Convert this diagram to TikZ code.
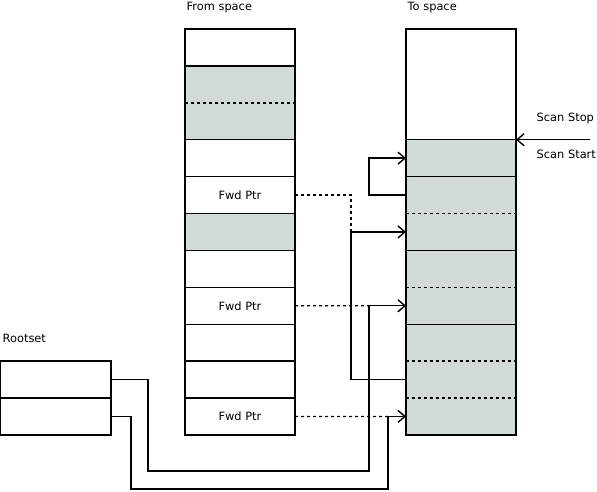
\documentclass[tikz,border=0pt]{standalone}
\usepackage{fontspec}
\setmainfont{DejaVu Sans}
\usetikzlibrary{positioning,arrows.meta}
\definecolor{memgray}{RGB}{211,219,214}
\tikzset{
  slot/.style={rectangle, minimum width=110pt, minimum height=36.9pt, inner sep=0pt, outer sep=0pt},
  used/.style={slot, fill=memgray},
  caption/.style={anchor=west, inner sep=0pt},
  ptr/.style={-{Straight Barb[length=7pt,width=12pt]}},
}
\begin{document}
\begin{tikzpicture}[x=1pt, y=-1pt, line width=1.4pt, node distance=0pt, every node/.style={font=\fontsize{11.4}{13}\selectfont}]
  \useasboundingbox (0,0) rectangle (597,491);
  % from space
  \node [caption] (fromlbl) at (186,8) {From space};
  \node [slot] (f1) at (240,47.45) {};
  \node [used, below=of f1] (f2) {};
  \node [used, below=of f2] (f3) {};
  \node [slot, below=of f3] (f4) {};
  \node [slot, below=of f4] (f5) {Fwd Ptr};
  \node [used, below=of f5] (f6) {};
  \node [slot, below=of f6] (f7) {};
  \node [slot, below=of f7] (f8) {Fwd Ptr};
  \node [slot, below=of f8] (f9) {};
  \node [slot, below=of f9] (f10) {};
  \node [slot, below=of f10] (f11) {Fwd Ptr};
  \draw (f1.north west) rectangle (f11.south east);
  \foreach \i in {1,3,4,5,6,7,8,9,10}
    \draw (f\i.south west) -- (f\i.south east);
  \draw [dashed] (f2.south west) -- (f2.south east);
  % to space
  \node [caption] (tolbl) at (407,8) {To space};
  \node [slot, minimum height=110.7pt] (tfree) at (461,84.35) {};
  \node [used, below=of tfree] (t1) {};
  \node [used, below=of t1] (t2) {};
  \node [used, below=of t2] (t3) {};
  \node [used, below=of t3] (t4) {};
  \node [used, below=of t4] (t5) {};
  \node [used, below=of t5] (t6) {};
  \node [used, below=of t6] (t7) {};
  \node [used, below=of t7] (t8) {};
  \draw (tfree.north west) rectangle (t8.south east);
  \foreach \i in {1,2,4,6}
    \draw (t\i.north west) -- (t\i.north east);
  \foreach \i in {2,4,6,7}
    \draw [dashed] (t\i.south west) -- (t\i.south east);
  % rootset
  \node [caption] (rootlbl) at (2,338) {Rootset};
  \node [slot, minimum width=111pt] (r1) at (55.5,379.55) {};
  \node [slot, minimum width=111pt, below=of r1] (r2) {};
  \draw (r1.north west) rectangle (r2.south east);
  \draw (r1.south west) -- (r1.south east);
  % scan pointers
  \coordinate (scanin) at (590,139.7);
  \node [caption] (stop) at (536,118) {Scan Stop};
  \node [caption] (start) at (536,154) {Scan Start};
  \draw [ptr] (scanin) -- (t1.north east);
  % references
  \draw [ptr] (t2.west) -- ++(-37,0) |- (t1.west);
  \path (t3.west) ++(-55,0) coordinate (j1);
  \path (t5.west) ++(-37,0) coordinate (j2);
  \path (t8.west) ++(-18,0) coordinate (j3);
  \draw [dashed] (f5.east) -| (j1);
  \draw [ptr] (j1) -- (t3.west);
  \draw (t7.west) -| (j1);
  \draw [dashed] (f8.east) -- (j2);
  \draw [ptr] (j2) -- (t5.west);
  \draw [dashed] (f11.east) -- (j3);
  \draw [ptr] (j3) -- (t8.west);
  \draw (r1.east) -| (148,471) -| (j2);
  \draw (r2.east) -| (131,489) -| (j3);
\end{tikzpicture}
\end{document}
